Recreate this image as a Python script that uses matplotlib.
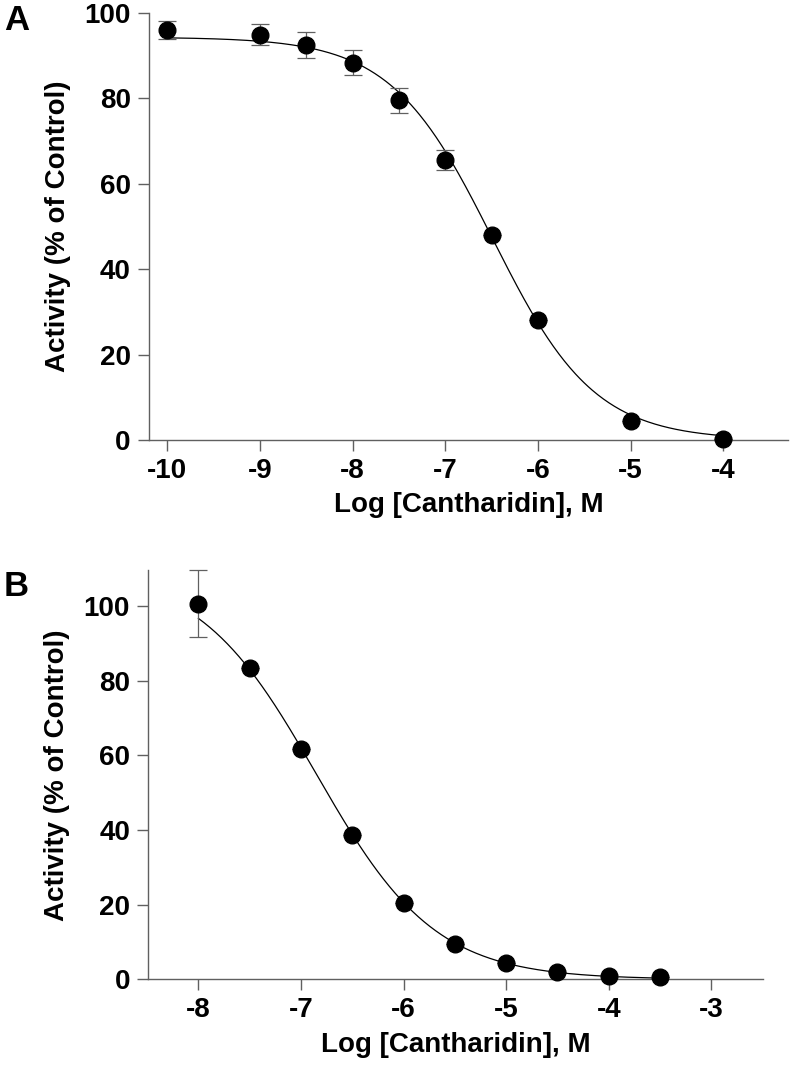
import numpy as np
import matplotlib.pyplot as plt

plt.rcParams["font.family"] = ["Liberation Sans", "DejaVu Sans"]
plt.rcParams["font.weight"] = "bold"
plt.rcParams["axes.unicode_minus"] = False

# Panel A data
logA = [-10, -9, -8.5, -8, -7.5, -7, -6.5, -6, -5, -4]
actA = [96.0, 94.9, 92.4, 88.3, 79.5, 65.5, 48.0, 28.0, 4.5, 0.3]
errA = [2.2, 2.5, 3.0, 2.9, 3.0, 2.3, 0, 0, 0, 0]
# fitted four-parameter logistic (top, bottom, logIC50, hill)
fitA = (94.3, 0.0, -6.49, 0.79)

# Panel B data
logB = [-8, -7.5, -7, -6.5, -6, -5.5, -5, -4.5, -4, -3.5]
actB = [100.7, 83.3, 61.8, 38.7, 20.5, 9.6, 4.4, 2.0, 1.0, 0.5]
errB = [8.9, 0, 0, 0, 0, 0, 0, 0, 0, 0]
fitB = (110.0, 0.0, -6.85, 0.75)

xlabel = "Log [Cantharidin], M"
ylabel = "Activity (% of Control)"
axis_grey = "#606060"


def logistic(x, top, bottom, logic50, hill):
    return bottom + (top - bottom) / (1 + 10 ** ((x - logic50) * hill))


def panel(ax, x, y, err, fit, xlim, ylim, xticks, yticks):
    xs = np.linspace(min(x), max(x), 400)
    ax.plot(xs, logistic(xs, *fit), color="black", lw=0.9, zorder=2)
    ax.errorbar(x, y, yerr=err, fmt="none", ecolor=axis_grey, elinewidth=0.9,
                capsize=6.5, capthick=0.9, zorder=3, clip_on=False)
    ax.plot(x, y, "o", color="black", ms=12, zorder=4, clip_on=False)
    ax.set_xlim(*xlim)
    ax.set_ylim(*ylim)
    ax.set_xticks(xticks)
    ax.set_yticks(yticks)
    for s in ["top", "right"]:
        ax.spines[s].set_visible(False)
    for s in ["left", "bottom"]:
        ax.spines[s].set_color(axis_grey)
        ax.spines[s].set_linewidth(1.0)
    ax.tick_params(direction="out", length=8, width=1.0, color=axis_grey,
                   labelsize=20, pad=5)
    ax.set_xlabel(xlabel, fontsize=20, fontweight="bold", labelpad=6)
    ax.set_ylabel(ylabel, fontsize=20, fontweight="bold", labelpad=10)


fig = plt.figure(figsize=(7.92, 10.68), dpi=100)
axA = fig.add_axes([0.188, 0.588, 0.807, 0.400])
axB = fig.add_axes([0.187, 0.083, 0.776, 0.383])

panel(axA, logA, actA, errA, fitA, (-10.2, -3.3), (0, 100),
      [-10, -9, -8, -7, -6, -5, -4], [0, 20, 40, 60, 80, 100])
panel(axB, logB, actB, errB, fitB, (-8.49, -2.5), (0, 109.6),
      [-8, -7, -6, -5, -4, -3], [0, 20, 40, 60, 80, 100])

fig.text(0.005, 0.996, "A", fontsize=25, fontweight="bold", va="top")
fig.text(0.005, 0.466, "B", fontsize=25, fontweight="bold", va="top")

fig.savefig("out.png", dpi=100)
